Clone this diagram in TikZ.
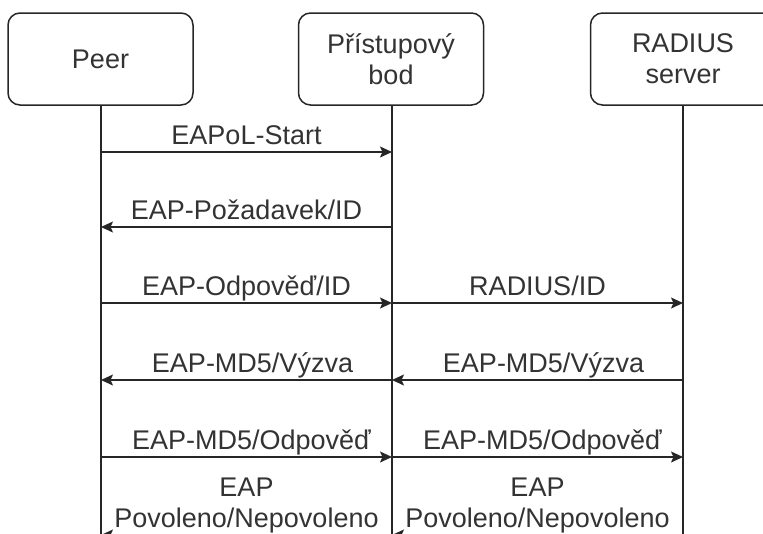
\documentclass[tikz,border=0pt]{standalone}
\usepackage{fontspec}
\setmainfont{Liberation Sans}
\usetikzlibrary{arrows.meta}
\definecolor{ln}{HTML}{262626}
\definecolor{tx}{HTML}{333333}
\tikzset{
  actor/.style={draw=ln, line width=1.5pt, rounded corners=12pt, minimum width=185pt, minimum height=92pt, inner sep=0pt, align=center, text=tx, font=\fontsize{27}{31}\selectfont},
  life/.style={draw=ln, line width=1.5pt},
  msg/.style={draw=ln, line width=1.5pt, -{Stealth[length=12pt,width=11pt,inset=2.5pt]}},
  lbl/.style={anchor=base, yshift=8pt, inner sep=0pt, text=tx, font=\fontsize{27}{31}\selectfont, align=center}
}
\begin{document}
\begin{tikzpicture}[x=1pt,y=-1pt]
\useasboundingbox (0,0) rectangle (763,533);
\clip (0,0) rectangle (763,533);
\node[actor] (peer) at (100.5,59) {Peer};
\node[actor] (ap) at (391,59) {Přístupový\\bod};
\node[actor] (rad) at (683,59) {RADIUS\\server};
\coordinate (peerE) at (101,560);
\coordinate (apE) at (392,560);
\coordinate (radE) at (683,560);
\draw[life] (peer.south -| peerE) -- (peerE);
\draw[life] (ap.south -| apE) -- (apE);
\draw[life] (rad.south -| radE) -- (radE);
% rows
\foreach \i/\y in {1/152,2/227,3/303,4/380,5/457,6/535}{
  \coordinate (p\i) at (101,\y);
  \coordinate (a\i) at (392,\y);
  \coordinate (r\i) at (683,\y);
}
\draw[msg] (p1) -- node[lbl] (t1) {EAPoL-Start} (a1);
\draw[msg] (a2) -- node[lbl] (t2) {EAP-Požadavek/ID} (p2);
\draw[msg] (p3) -- node[lbl] (t3) {EAP-Odpověď/ID} (a3);
\draw[msg] (a3) -- node[lbl] (t4) {RADIUS/ID} (r3);
\draw[msg] (a4) -- node[lbl, xshift=6pt] (t5) {EAP-MD5/Výzva} (p4);
\draw[msg] (r4) -- node[lbl, xshift=6pt] (t6) {EAP-MD5/Výzva} (a4);
\draw[msg] (p5) -- node[lbl, xshift=5pt] (t7) {EAP-MD5/Odpověď} (a5);
\draw[msg] (a5) -- node[lbl, xshift=5pt] (t8) {EAP-MD5/Odpověď} (r5);
\draw[msg] (a6) -- node[lbl] (t9) {EAP\\Povoleno/Nepovoleno} (p6);
\draw[msg] (r6) -- node[lbl] (t10) {EAP\\Povoleno/Nepovoleno} (a6);
\end{tikzpicture}
\end{document}
